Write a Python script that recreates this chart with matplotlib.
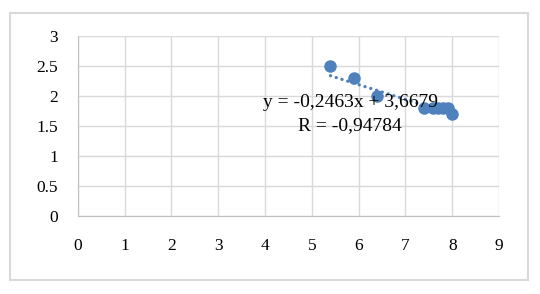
# Scatter with linear trendline and correlation label
import numpy as np
import matplotlib.pyplot as plt
from matplotlib.patches import Rectangle

x_vals = [5.4, 5.9, 6.4, 7.4, 7.6, 7.7, 7.8, 7.9, 8.0]
y_vals = [2.5, 2.3, 2.0, 1.8, 1.8, 1.8, 1.8, 1.8, 1.7]
slope = -0.2463
intercept = 3.6679
eq_label = "y = -0,2463x + 3,6679"
r_label = "R = -0,94784"
x_ticks = [0, 1, 2, 3, 4, 5, 6, 7, 8, 9]
y_ticks = [0, 0.5, 1, 1.5, 2, 2.5, 3]
y_tick_labels = ["0", "0.5", "1", "1.5", "2", "2.5", "3"]

plt.rcParams['font.family'] = ['Liberation Serif', 'DejaVu Serif']

fig = plt.figure(figsize=(5.4, 2.94), dpi=100)
fig.patches.append(Rectangle((10 / 540, 1 - 280 / 294), 518 / 540, 267 / 294,
                             transform=fig.transFigure, fill=False,
                             edgecolor='#d9d9d9', linewidth=1.5))

ax = fig.add_axes([77.7 / 540, 1 - 216 / 294, (499 - 77.7) / 540, 180 / 294])
ax.set_xlim(0, 9)
ax.set_ylim(0, 3)
ax.set_xticks(x_ticks)
ax.set_yticks(y_ticks)
ax.set_yticklabels(y_tick_labels)
ax.grid(True, color='#d9d9d9', linewidth=1)
ax.set_axisbelow(True)
for side in ['top', 'right']:
    ax.spines[side].set_visible(False)
for side in ['left', 'bottom']:
    ax.spines[side].set_color('#bfbfbf')
ax.tick_params(length=0, labelsize=12.5)
ax.tick_params(axis='x', pad=16)
ax.tick_params(axis='y', pad=14)

# trendline from the fitted equation (round dots)
tx = np.array([min(x_vals), max(x_vals)])
ax.plot(tx, slope * tx + intercept, linestyle=(0, (0.01, 1.8)), color='#4f81bd',
        linewidth=2.4, dash_capstyle='round', zorder=2)
ax.plot(x_vals, y_vals, 'o', color='#4f81bd', markersize=8, zorder=3, clip_on=False)

ax.text(5.82, 1.89, eq_label, fontsize=14, ha='center', va='center', zorder=4)
ax.text(5.82, 1.51, r_label, fontsize=14, ha='center', va='center', zorder=4)

plt.savefig('out.png', dpi=100)
